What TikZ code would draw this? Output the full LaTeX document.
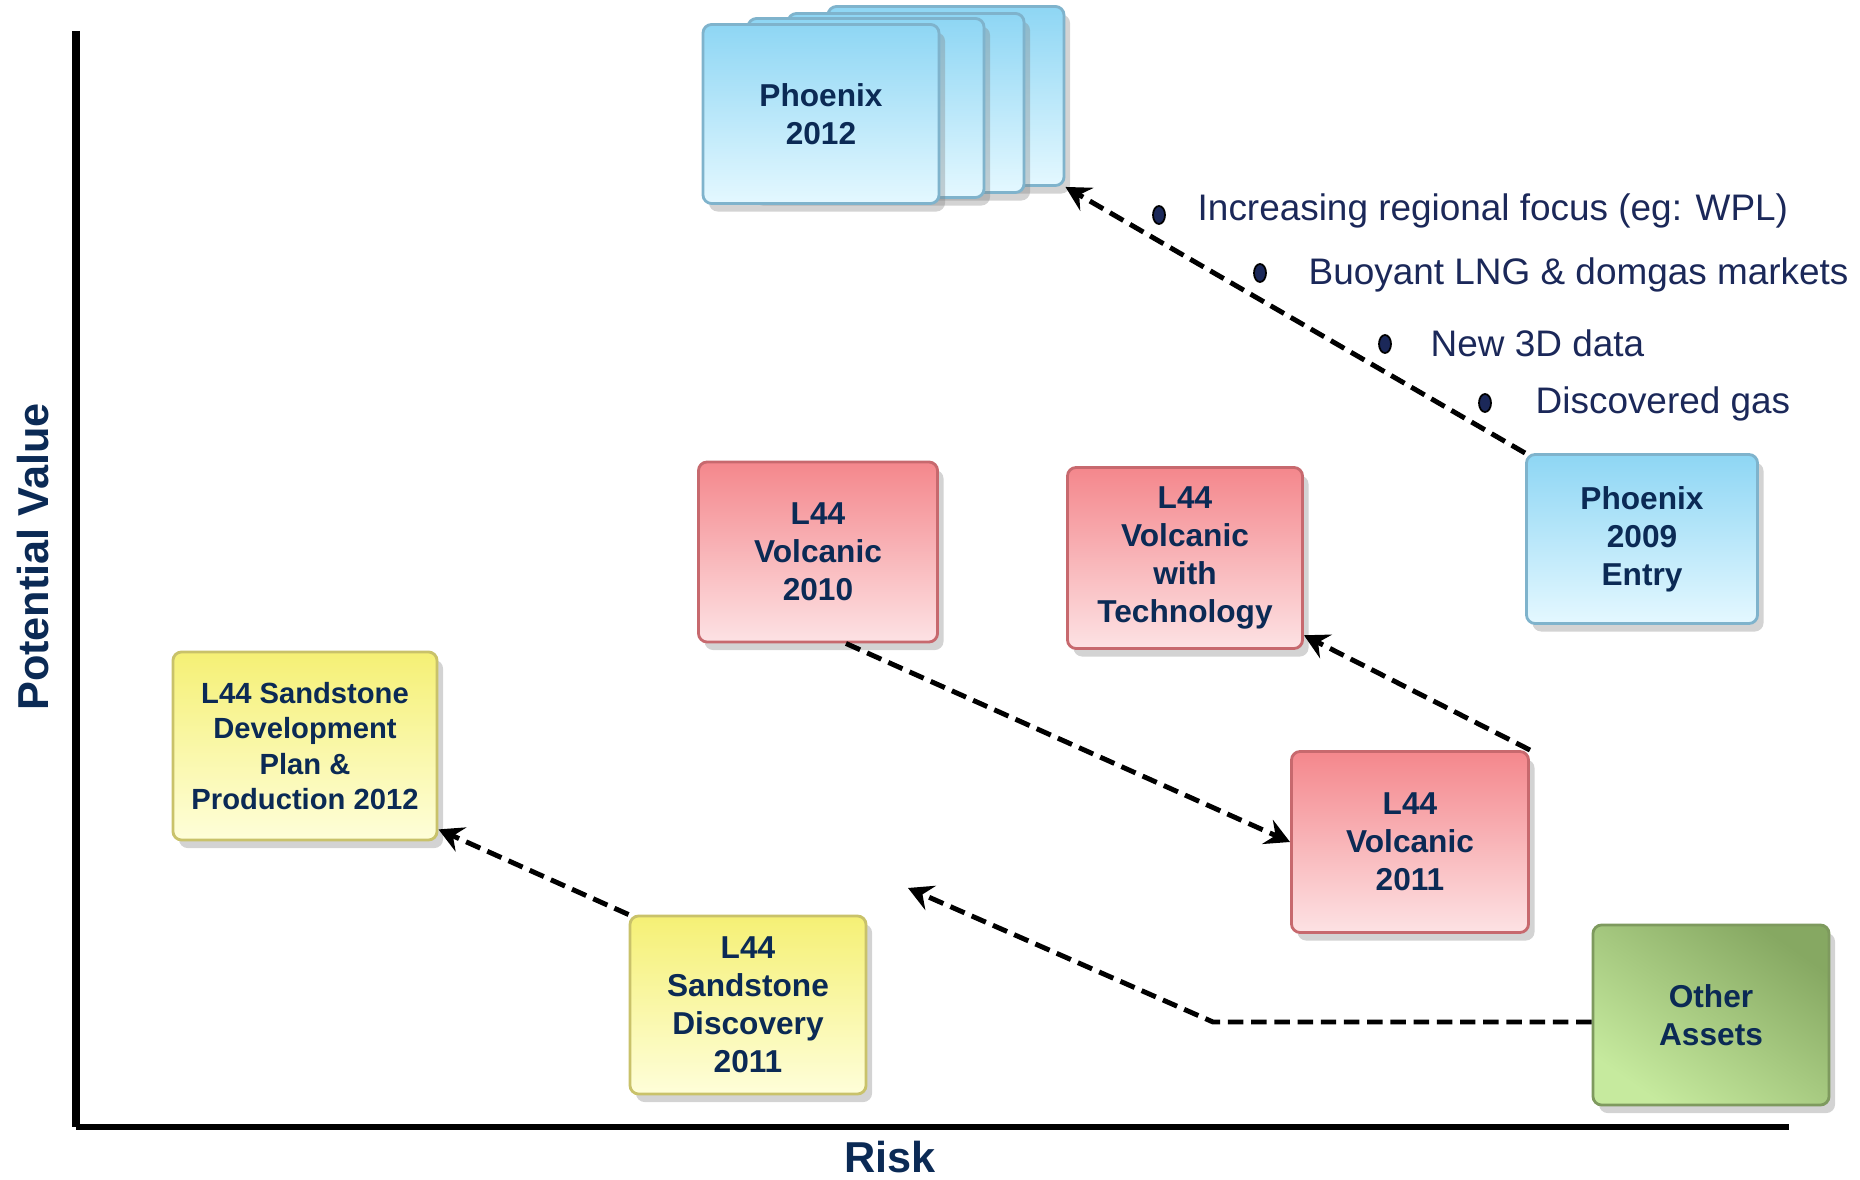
\documentclass[tikz,border=0pt]{standalone}
\usepackage{fontspec}
\setmainfont{Liberation Sans}
\usetikzlibrary{shadows,arrows.meta,shapes.geometric}

\definecolor{navy}{HTML}{0B2A55}
\definecolor{ink}{HTML}{1B2859}
\definecolor{bluetop}{HTML}{8ED6F4}
\definecolor{bluebot}{HTML}{E4F8FF}
\definecolor{blueedge}{HTML}{7FB3CC}
\definecolor{redtop}{HTML}{F4878C}
\definecolor{redbot}{HTML}{FDE2E4}
\definecolor{rededge}{HTML}{C7696E}
\definecolor{yeltop}{HTML}{F5F075}
\definecolor{yelbot}{HTML}{FEFED9}
\definecolor{yeledge}{HTML}{C9C26A}
\definecolor{grntop}{HTML}{86A862}
\definecolor{grnbot}{HTML}{C6EA9E}
\definecolor{grnedge}{HTML}{7E9A5E}

\tikzset{
  box/.style={rectangle, rounded corners=2.5pt, align=center, text=navy,
    font=\bfseries\fontsize{9}{10.8}\selectfont, line width=0.8pt,
    minimum width=2.36cm, minimum height=1.79cm,
    drop shadow={shadow xshift=0.6mm, shadow yshift=-0.8mm, opacity=0.35}},
  bluebox/.style={box, draw=blueedge, top color=bluetop, bottom color=bluebot},
  redbox/.style={box, draw=rededge, top color=redtop, bottom color=redbot},
  yelbox/.style={box, draw=yeledge, top color=yeltop, bottom color=yelbot},
  grnbox/.style={box, draw=grnedge, top color=grntop, bottom color=grnbot, shading angle=-35},
  move/.style={line width=1.4pt, dash pattern=on 4.4pt off 2.2pt,
    -{Stealth[length=7pt,width=7.5pt,inset=2.5pt]}},
  item/.style={anchor=base west, inner sep=0pt, text=ink, font=\fontsize{10.5}{12}\selectfont},
  dot/.style={ellipse, fill=ink, draw=black, line width=0.5pt, inner sep=0pt,
    minimum width=0.12cm, minimum height=0.18cm},
  axislabel/.style={inner sep=0pt, text=navy, font=\bfseries\fontsize{12.3}{14}\selectfont}
}

\begin{document}
\begin{tikzpicture}[x=0.01cm, y=-0.01cm]
\useasboundingbox (0,0) rectangle (1860,1180);

% axes
\coordinate (top) at (76,31);
\coordinate (origin) at (76,1127);
\coordinate (far) at (1789,1127);
\draw[line width=2.3pt] (top) -- (origin);
\draw[line width=1.8pt] (origin) -- (far);
\node[axislabel, rotate=90, anchor=base] (yl) at (48,557) {Potential Value};
\node[axislabel, anchor=base] (xl) at (890,1173) {Risk};

% Phoenix stack
\node[bluebox] (p12d) at (946,96) {};
\node[bluebox] (p12c) at (906,103) {};
\node[bluebox] (p12b) at (866,108) {};
\node[bluebox] (p12) at (821,114) {Phoenix\\2012};
\node[bluebox, minimum width=2.31cm, minimum height=1.69cm] (p09) at (1642,539) {Phoenix\\2009\\Entry};

% L44 volcanic
\node[redbox, minimum width=2.39cm, minimum height=1.80cm] (v10) at (818,552) {L44\\Volcanic\\2010};
\node[redbox, minimum width=2.35cm, minimum height=1.81cm] (tech) at (1185,558) {L44\\Volcanic\\with\\Technology};
\node[redbox, minimum width=2.37cm, minimum height=1.81cm] (v11) at (1410,842) {L44\\Volcanic\\2011};

% L44 sandstone
\node[yelbox, minimum width=2.64cm, minimum height=1.88cm, font=\bfseries\fontsize{8.3}{10.1}\selectfont] (dev) at (305,746) {L44 Sandstone\\Development\\Plan \&\\Production 2012};
\node[yelbox, minimum height=1.78cm] (disc) at (748,1005) {L44\\Sandstone\\Discovery\\2011};

\node[grnbox, minimum height=1.80cm] (other) at (1711,1015) {Other\\Assets};

% drivers
\node[dot] (d1) at (1159,215) {};
\node[item] (t1) at (1197,221) {Increasing regional focus (eg: WPL)};
\node[dot] (d2) at (1260,273) {};
\node[item] (t2) at (1308,285) {Buoyant LNG \& domgas markets};
\node[dot] (d3) at (1385,344) {};
\node[item] (t3) at (1430,357) {New 3D data};
\node[dot] (d4) at (1485,403) {};
\node[item] (t4) at (1535,414) {Discovered gas};

% moves
\draw[move] (p09.north west) -- (p12d.south east);
\draw[move] (v11.north east) -- (tech.-33);
\draw[move] (v10.-73) -- (v11.west);
\draw[move] (disc.north west) -- (dev.-32);
\coordinate (bend) at (1213,1022);
\coordinate (free) at (908,888);
\draw[move] (other.west |- bend) -- (bend) -- (free);
\end{tikzpicture}
\end{document}
